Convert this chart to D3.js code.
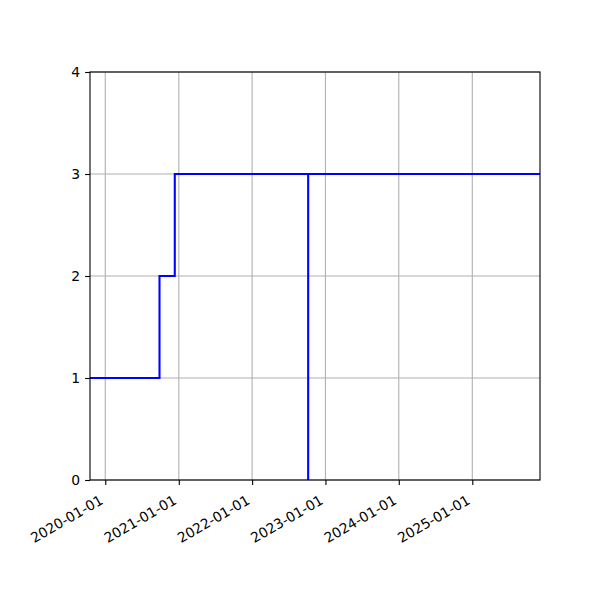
<!DOCTYPE html>
<html>
<head>
<meta charset="utf-8">
<script src="https://cdn.jsdelivr.net/npm/d3@7"></script>
<style>
  body { margin: 0; background: #fff; }
  text { font-family: "DejaVu Sans", sans-serif; font-size: 13.9px; fill: #000; }
</style>
</head>
<body>
<div id="chart"></div>
<script>
// step series
var dates = ["2019-10-17", "2020-09-27", "2020-12-12", "2022-10-07", "2022-10-07", "2025-12-04"];
var values = [1, 2, 3, 0, 3, 3];
var xDomain = ["2019-10-17", "2025-12-04"];
var yTicks = [0, 1, 2, 3, 4];
var xTicks = ["2020-01-01", "2021-01-01", "2022-01-01", "2023-01-01", "2024-01-01", "2025-01-01"];

var config = {
  width: 600,
  height: 600,
  margin: { top: 72, right: 60, bottom: 120, left: 90 }
};

var parse = d3.timeParse("%Y-%m-%d");
var fmt = d3.timeFormat("%Y-%m-%d");
var margin = config.margin;
var width = config.width - margin.left - margin.right;
var height = config.height - margin.top - margin.bottom;

var data = dates.map(function(d, i) { return { date: parse(d), value: values[i] }; });

var x = d3.scaleTime().domain(xDomain.map(parse)).range([0, width]);
var y = d3.scaleLinear().domain([0, 4]).range([height, 0]);

var svg = d3.select("#chart").append("svg")
    .attr("width", config.width)
    .attr("height", config.height)
  .append("g")
    .attr("transform", "translate(" + margin.left + "," + margin.top + ")");

// grid
svg.append("g").selectAll("line")
    .data(xTicks.map(parse))
  .enter().append("line")
    .attr("x1", function(d) { return x(d); })
    .attr("x2", function(d) { return x(d); })
    .attr("y1", 0).attr("y2", height)
    .attr("stroke", "#b0b0b0").attr("stroke-width", 1.1);
svg.append("g").selectAll("line")
    .data(yTicks)
  .enter().append("line")
    .attr("y1", function(d) { return y(d); })
    .attr("y2", function(d) { return y(d); })
    .attr("x1", 0).attr("x2", width)
    .attr("stroke", "#b0b0b0").attr("stroke-width", 1.1);

svg.append("defs").append("clipPath").attr("id", "clip")
  .append("rect").attr("width", width).attr("height", height);

var line = d3.line()
    .x(function(d) { return x(d.date); })
    .y(function(d) { return y(d.value); })
    .curve(d3.curveStepAfter);

svg.append("path")
    .datum(data)
    .attr("clip-path", "url(#clip)")
    .attr("fill", "none")
    .attr("stroke", "#0000ff")
    .attr("stroke-width", 2.08)
    .attr("d", line);

// axes
var xAxis = svg.append("g")
    .attr("transform", "translate(0," + height + ")")
    .call(d3.axisBottom(x).tickValues(xTicks.map(parse)).tickFormat(fmt).tickSizeInner(4.9).tickSizeOuter(0));
// matplotlib autofmt_xdate: rotated 30deg, right aligned under the tick
xAxis.selectAll(".tick text")
    .style("text-anchor", "end")
    .attr("x", 0).attr("y", 0)
    .attr("dy", null)
    .attr("transform", "translate(-1.7,23) rotate(-30)");

var yAxis = svg.append("g")
    .call(d3.axisLeft(y).tickValues(yTicks).tickFormat(d3.format("d")).tickSizeInner(4.9).tickSizeOuter(0).tickPadding(4.9));

svg.selectAll(".domain").remove();
svg.selectAll(".tick line").attr("stroke", "#000").attr("stroke-width", 1.1);
svg.selectAll(".tick text").style("font-size", "13.9px").style("font-family", "DejaVu Sans, sans-serif");

svg.append("rect")
    .attr("width", width).attr("height", height)
    .attr("fill", "none").attr("stroke", "#000").attr("stroke-width", 1.1);
</script>
</body>
</html>
